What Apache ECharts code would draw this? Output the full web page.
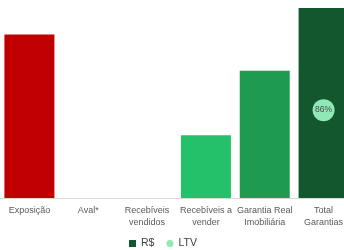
<!DOCTYPE html>
<html>
<head>
<meta charset="utf-8">
<script src="https://cdn.jsdelivr.net/npm/echarts@6/dist/echarts.min.js"></script>
<style>
  html, body { margin: 0; padding: 0; background: #fff; }
  #chart { width: 344px; height: 250px; }
</style>
</head>
<body>
<div id="chart"></div>
<script>
// categorias do eixo x
var categories = ['Exposição', 'Aval*', 'Recebíveis\nvendidos', 'Recebíveis a\nvender', 'Garantia Real\nImobiliária', 'Total\nGarantias']
// valores R$ (base 100 = total garantias)
var valores = [86, 0, 0, 33, 67, 100]
var cores = ['#C00000', '#C00000', '#C00000', '#24C16A', '#1F9A51', '#13572F']
// LTV so no total
var ltv = [null, null, null, null, null, 0.86]

var chart = echarts.init(document.getElementById('chart'))

chart.setOption({
  animation: false,
  textStyle: { fontFamily: 'Liberation Sans' },
  grid: {
    left: 0,
    width: 353,
    top: 8,
    bottom: 52,
    outerBoundsMode: 'none',
    containLabel: false
  },
  legend: {
    top: 233,
    left: 124,
    itemWidth: 7,
    itemHeight: 7,
    itemGap: 12,
    textStyle: { color: '#404040', fontSize: 10.5 },
    data: [
      { name: 'R$', icon: 'rect', itemStyle: { color: '#13572F' } },
      { name: 'LTV', icon: 'circle', itemStyle: { color: '#8FE8B5' } }
    ]
  },
  xAxis: {
    type: 'category',
    data: categories,
    axisLine: { lineStyle: { color: '#d9d9d9', width: 1 } },
    axisTick: { show: false },
    axisLabel: {
      interval: 0,
      color: '#595959',
      fontSize: 9,
      lineHeight: 12,
      margin: 7
    }
  },
  yAxis: [
    { type: 'value', min: 0, max: 100, show: false },
    { type: 'value', min: 0, max: 1.86, show: false }
  ],
  series: [
    {
      name: 'R$',
      type: 'bar',
      barWidth: 50,
      data: valores.map(function(v, i) {
        return { value: v, itemStyle: { color: cores[i] } }
      })
    },
    {
      name: 'LTV',
      type: 'scatter',
      yAxisIndex: 1,
      symbolSize: 22,
      itemStyle: { color: '#8FE8B5', opacity: 1 },
      label: {
        show: true,
        position: 'inside',
        color: '#4a4a4a',
        fontSize: 8.5,
        formatter: function(p) {
          return Math.round(p.value * 100) + '%'
        }
      },
      data: ltv
    }
  ]
})
</script>
</body>
</html>
